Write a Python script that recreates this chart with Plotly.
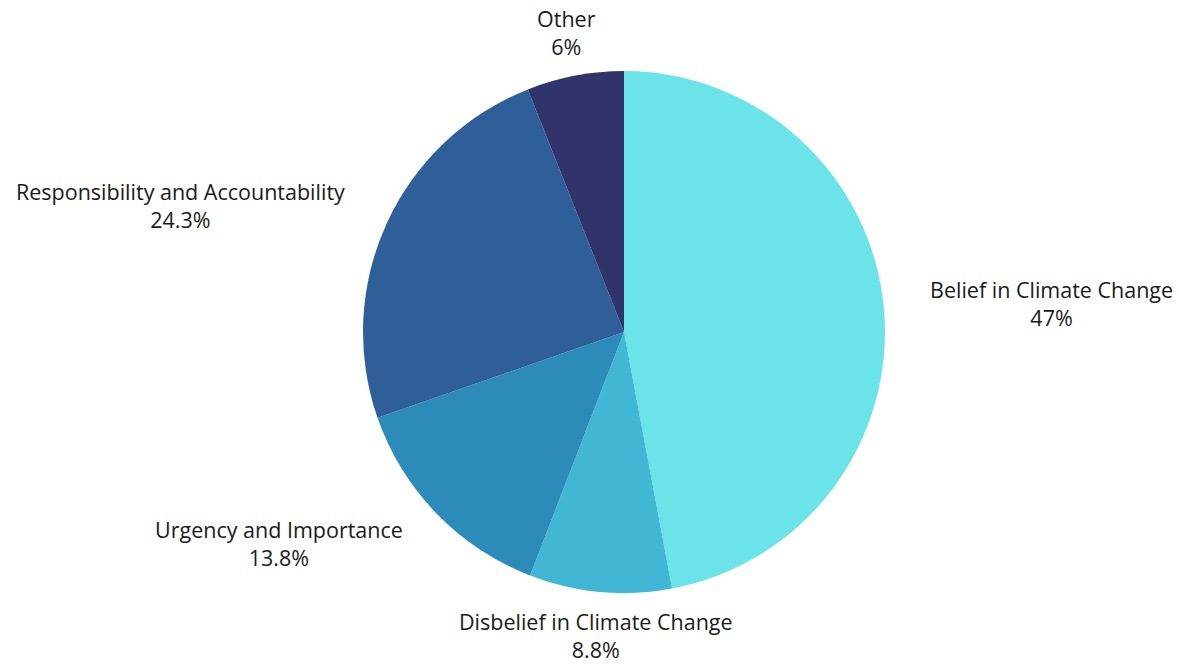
import math
import plotly.graph_objects as go

labels = ["Belief in Climate Change", "Disbelief in Climate Change", "Urgency and Importance",
          "Responsibility and Accountability", "Other"]
values = [47, 8.8, 13.8, 24.3, 6]
value_text = ["47%", "8.8%", "13.8%", "24.3%", "6%"]
colors = ["#6AE4E8", "#42B7D5", "#2D8BBA", "#2E5F98", "#31346C"]

W, H = 1179, 664
dom_x = [0.3079, 0.7506]
dom_y = [0.1069, 0.893]
font = dict(family="Open Sans", size=21.5, color="#1a1a1a")

fig = go.Figure(go.Pie(
    labels=labels,
    values=values,
    sort=False,
    direction="clockwise",
    rotation=0,
    marker=dict(colors=colors, line=dict(width=0)),
    textinfo="none",
    hoverinfo="label+value",
    showlegend=False,
    domain=dict(x=dom_x, y=dom_y),
))

# label placement derived from slice mid-angles
cx = (dom_x[0] + dom_x[1]) / 2 * W
cy = (1 - (dom_y[0] + dom_y[1]) / 2) * H
R = (dom_y[1] - dom_y[0]) * H / 2
label_r = R * 1.168
total = sum(values)
cum = 0.0
annotations = []
for lab, v, vt in zip(labels, values, value_text):
    mid = cum + v / 2
    cum += v
    ang = math.radians(90 - mid / total * 360)
    px = cx + label_r * math.cos(ang)
    py = cy - label_r * math.sin(ang)
    c = math.cos(ang)
    if c > 0.3:
        xa = "left"
    elif c < -0.3:
        xa = "right"
    else:
        xa = "center"
    annotations.append(dict(
        x=px / W, y=1 - py / H, xref="paper", yref="paper",
        text=f"{lab}<br>{vt}", showarrow=False,
        xanchor=xa, yanchor="middle", align="center", font=font,
    ))

fig.update_layout(
    width=W, height=H,
    margin=dict(l=0, r=0, t=0, b=0),
    paper_bgcolor="white",
    plot_bgcolor="white",
    font=font,
    annotations=annotations,
)
fig.write_html("out.html")
